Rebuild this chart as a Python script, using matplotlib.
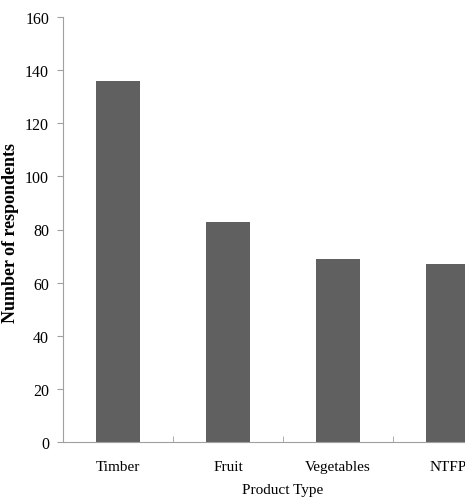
import matplotlib.pyplot as plt

categories = ["Timber", "Fruit", "Vegetables", "NTFP"]
respondents = [136, 83, 69, 67]
y_ticks = [0, 20, 40, 60, 80, 100, 120, 140, 160]

plt.rcParams["font.family"] = ["Liberation Serif", "DejaVu Serif"]

fig = plt.figure(figsize=(4.65, 5.02), dpi=100)
# axes run past the right edge, as in the cropped original
ax = fig.add_axes([63 / 465, 1 - 443 / 502, 440 / 465, 425 / 502])

x = list(range(len(categories)))
ax.bar(x, respondents, width=0.4, color="#606060", zorder=2)

ax.set_xlim(-0.5, 3.5)
ax.set_ylim(0, 160)
ax.set_yticks(y_ticks)
ax.set_xticks(x)
ax.set_xticklabels(categories, fontsize=11)
ax.tick_params(axis="x", length=0, pad=13)
ax.set_xticks([0.5, 1.5, 2.5], minor=True)
ax.tick_params(axis="x", which="minor", direction="in", length=4, color="#a0a0a0")
ax.tick_params(axis="y", direction="out", length=4, color="#a0a0a0", labelsize=11.5, pad=6)

for side in ["top", "right"]:
    ax.spines[side].set_visible(False)
for side in ["left", "bottom"]:
    ax.spines[side].set_color("#a0a0a0")

ax.set_xlabel("Product Type", fontsize=11, labelpad=7)
ax.set_ylabel("Number of respondents", fontsize=13, fontweight="bold")
ax.yaxis.set_label_coords(-0.1, 0.495)

fig.savefig("out.png", dpi=100)
